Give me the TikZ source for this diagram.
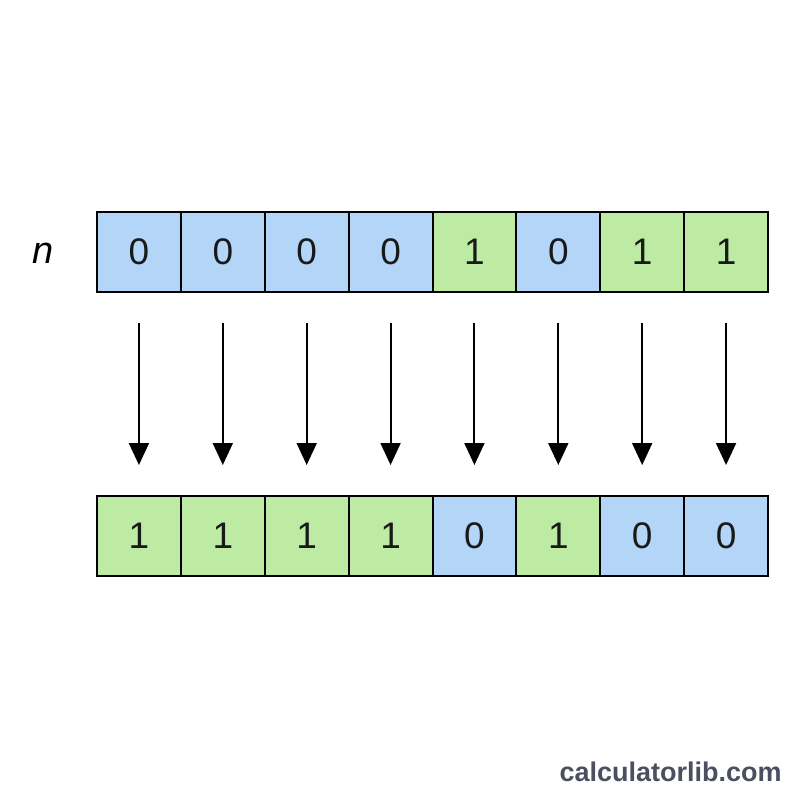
\documentclass[tikz,border=0pt]{standalone}
\usepackage{fontspec}
\setmainfont{Liberation Sans}
\usetikzlibrary{arrows.meta,calc}
\definecolor{cblue}{HTML}{B3D5F8}
\definecolor{cgreen}{HTML}{BDEBA3}
\definecolor{wm}{HTML}{4A5060}
\tikzset{
  cell/.style={draw=black, line width=1pt, minimum width=41.9375pt, minimum height=40pt, inner sep=0pt, font=\fontsize{18.5}{20}\selectfont, text=black!90, anchor=center},
  bcell/.style={cell, fill=cblue},
  gcell/.style={cell, fill=cgreen},
  flow/.style={line width=1pt, -{Triangle[width=10pt,length=11pt]}}
}
\begin{document}
\begin{tikzpicture}[x=0.5pt,y=-0.5pt]
\useasboundingbox (0,0) rectangle (800,800);
\node[font=\itshape\fontsize{19}{21}\selectfont] (nlab) at (43,253) {n};
\foreach \v [count=\i from 0] in {0,0,0,0,1,0,1,1} {
  \ifnum\v=0 \def\st{bcell}\else\def\st{gcell}\fi
  \node[\st] (t\i) at ({97+83.875*(\i+0.5)},252) {\v};
}
\foreach \v [count=\i from 0] in {1,1,1,1,0,1,0,0} {
  \ifnum\v=0 \def\st{bcell}\else\def\st{gcell}\fi
  \node[\st] (b\i) at ({97+83.875*(\i+0.5)},536) {\v};
}
\foreach \i in {0,...,7} {
  \coordinate (s\i) at ($(t\i.south)+(0,30)$);
  \coordinate (e\i) at ($(b\i.north)+(0,-30)$);
  \draw[flow] (s\i) -- (e\i);
}
\node[font=\bfseries\fontsize{13.5}{15}\selectfont, text=wm, anchor=east, inner sep=0pt] (wmark) at (782,772) {calculatorlib.com};
\end{tikzpicture}
\end{document}
